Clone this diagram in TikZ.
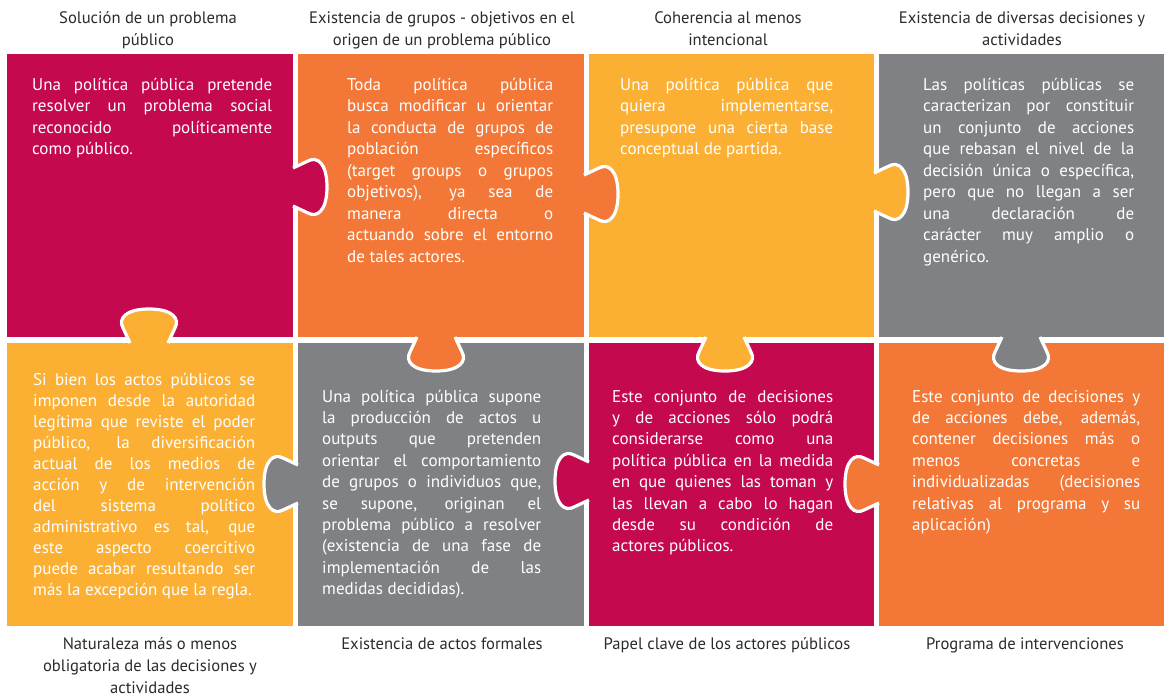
\documentclass[tikz,border=0pt]{standalone}
\usepackage{fontspec}
\setmainfont{PT Sans}
\usetikzlibrary{positioning}
\definecolor{pcrimson}{HTML}{C5094F}
\definecolor{porange}{HTML}{F37838}
\definecolor{pyellow}{HTML}{FBB034}
\definecolor{pgray}{HTML}{808184}
\definecolor{ptitle}{HTML}{2B2B2B}
\newlength\blockw
\newcommand\jline[1]{\hbox to\blockw{#1}}
\newcommand\lline[1]{\hbox to\blockw{#1\hfil}}
\newcommand\knob[5]{%
  \begin{scope}[shift={(#1,#2)}, x={#3}, y={#4}]
    \path[fill=#5, draw=white, line width=3.2pt, line join=round]
      (-19,0) -- (-26,15) .. controls (-31,24) and (-24,34) .. (0,34)
      .. controls (24,34) and (31,24) .. (26,15) -- (19,0);
  \end{scope}}
\tikzset{
  piece/.style={draw=none, inner sep=0pt, outer sep=0pt, rectangle, minimum height=283pt},
  body/.style={anchor=base west, inner sep=0pt, text=white, font=\fontsize{17}{21.5}\selectfont},
  ttl/.style={anchor=base, inner sep=0pt, text=ptitle, font=\fontsize{16.6}{22}\selectfont},
}
\begin{document}
\begin{tikzpicture}[x=1pt,y=-1pt]
\useasboundingbox (0,0) rectangle (1164,699);
% pieces
\node[piece, fill=pcrimson, minimum width=286pt] (p1) at (150,195.5) {};
\node[piece, fill=porange, minimum width=286pt] (p2) at (441,195.5) {};
\node[piece, fill=pyellow, minimum width=285pt] (p3) at (731.5,195.5) {};
\node[piece, fill=pgray, minimum width=285pt] (p4) at (1021.5,195.5) {};
\node[piece, fill=pyellow, minimum width=286pt] (p5) at (150,484.5) {};
\node[piece, fill=pgray, minimum width=286pt] (p6) at (441,484.5) {};
\node[piece, fill=pcrimson, minimum width=285pt] (p7) at (731.5,484.5) {};
\node[piece, fill=porange, minimum width=285pt] (p8) at (1021.5,484.5) {};
% knobs
\knob{149}{343}{(1pt,0pt)}{(0pt,1pt)}{pyellow}
\knob{436}{337}{(1pt,0pt)}{(0pt,-1pt)}{porange}
\knob{725}{337}{(1pt,0pt)}{(0pt,-1pt)}{pyellow}
\knob{1021}{337}{(1pt,0pt)}{(0pt,-1pt)}{pgray}
\knob{293}{187}{(0pt,1pt)}{(1pt,0pt)}{pcrimson}
\knob{584}{194}{(0pt,1pt)}{(1pt,0pt)}{porange}
\knob{874}{192}{(0pt,1pt)}{(1pt,0pt)}{pyellow}
\knob{298}{484}{(0pt,1pt)}{(-1pt,0pt)}{pgray}
\knob{589}{481}{(0pt,1pt)}{(-1pt,0pt)}{pcrimson}
\knob{879}{484}{(0pt,1pt)}{(-1pt,0pt)}{porange}
% titles
\node[ttl] (t1) at (148,23) {\vtop{\halign{\hfil#\hfil\cr Solución de un problema\cr público\cr}}};
\node[ttl] (t2) at (442,23) {\vtop{\halign{\hfil#\hfil\cr Existencia de grupos - objetivos en el\cr origen de un problema público\cr}}};
\node[ttl] (t3) at (728,23) {\vtop{\halign{\hfil#\hfil\cr Coherencia al menos\cr intencional\cr}}};
\node[ttl] (t4) at (1022,23) {\vtop{\halign{\hfil#\hfil\cr Existencia de diversas decisiones y\cr actividades\cr}}};
\node[ttl] (b1) at (150,649) {\vtop{\halign{\hfil#\hfil\cr Naturaleza más o menos\cr obligatoria de las decisiones y\cr actividades\cr}}};
\node[ttl] (b2) at (442,649) {Existencia de actos formales};
\node[ttl] (b3) at (727,649) {Papel clave de los actores públicos};
\node[ttl] (b4) at (1025,649) {Programa de intervenciones};
% body texts
\node[body] (x1) at (32,90) {\setlength\blockw{240pt}\vtop{%
\jline{Una política pública pretende}
\jline{resolver un problema social}
\jline{reconocido políticamente}
\lline{como público.}}};
\node[body] (x2) at (347,90) {\setlength\blockw{206pt}\vtop{%
\jline{Toda política pública}
\jline{busca modificar u orientar}
\jline{la conducta de grupos de}
\jline{población específicos}
\jline{(target groups o grupos}
\jline{objetivos), ya sea de}
\jline{manera directa o}
\jline{actuando sobre el entorno}
\lline{de tales actores.}}};
\node[body] (x3) at (620,90) {\setlength\blockw{213pt}\vtop{%
\jline{Una política pública que}
\jline{quiera implementarse,}
\jline{presupone una cierta base}
\lline{conceptual de partida.}}};
\node[body] (x4) at (923,90) {\setlength\blockw{211pt}\vtop{%
\jline{Las políticas públicas se}
\jline{caracterizan por constituir}
\jline{un conjunto de acciones}
\jline{que rebasan el nivel de la}
\jline{decisión única o específica,}
\jline{pero que no llegan a ser}
\jline{una declaración de}
\jline{carácter muy amplio o}
\lline{genérico.}}};
\node[body, font=\fontsize{17}{21}\selectfont] (x5) at (33,385) {\setlength\blockw{222pt}\vtop{%
\jline{Si bien los actos públicos se}
\jline{imponen desde la autoridad}
\jline{legítima que reviste el poder}
\jline{público, la diversificación}
\jline{actual de los medios de}
\jline{acción y de intervención}
\jline{del sistema político}
\jline{administrativo es tal, que}
\jline{este aspecto coercitivo}
\jline{puede acabar resultando ser}
\lline{más la excepción que la regla.}}};
\node[body, font=\fontsize{17}{21.4}\selectfont] (x6) at (322,402) {\setlength\blockw{219pt}\vtop{%
\jline{Una política pública supone}
\jline{la producción de actos u}
\jline{outputs que pretenden}
\jline{orientar el comportamiento}
\jline{de grupos o individuos que,}
\jline{se supone, originan el}
\jline{problema público a resolver}
\jline{(existencia de una fase de}
\jline{implementación de las}
\lline{medidas decididas).}}};
\node[body, font=\fontsize{17}{21.4}\selectfont] (x7) at (612,402) {\setlength\blockw{221pt}\vtop{%
\jline{Este conjunto de decisiones}
\jline{y de acciones sólo podrá}
\jline{considerarse como una}
\jline{política pública en la medida}
\jline{en que quienes las toman y}
\jline{las llevan a cabo lo hagan}
\jline{desde su condición de}
\lline{actores públicos.}}};
\node[body, font=\fontsize{17}{21.4}\selectfont] (x8) at (912,402) {\setlength\blockw{228pt}\vtop{%
\jline{Este conjunto de decisiones y}
\jline{de acciones debe, además,}
\jline{contener decisiones más o}
\jline{menos concretas e}
\jline{individualizadas (decisiones}
\jline{relativas al programa y su}
\lline{aplicación)}}};
\end{tikzpicture}
\end{document}
